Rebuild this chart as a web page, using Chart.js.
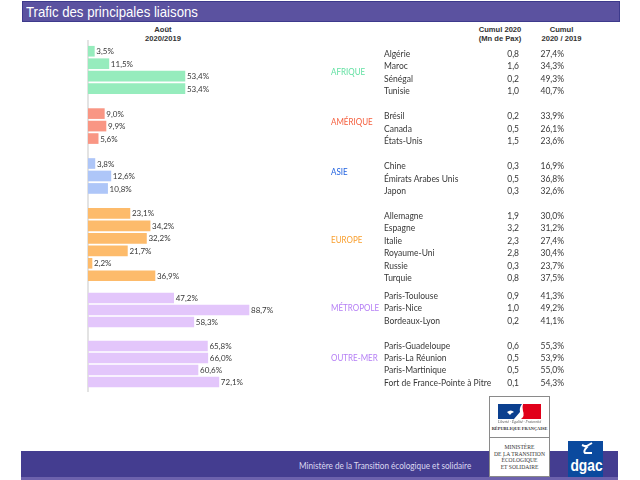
<!DOCTYPE html>
<html lang="fr">
<head>
<meta charset="utf-8">
<title>Trafic des principales liaisons</title>
<script src="https://cdn.jsdelivr.net/npm/chart.js@4"></script>
<style>
  html, body { margin: 0; padding: 0; background: #fff; }
  body { position: relative; width: 640px; height: 480px; overflow: hidden; font-family: Lato, sans-serif; color: #383838; }
  .abs { position: absolute; white-space: nowrap; }
  #titlebar { left: 22px; top: 1px; width: 598px; height: 21px; background: #5b52a0; border: 1px solid #3d3a8c; box-sizing: border-box; }
  #title { left: 26px; top: 1px; font: 15px/21px "Liberation Sans", sans-serif; color: #fff; transform: scaleX(0.88); transform-origin: left; }
  #footer { left: 21px; top: 451px; width: 597px; height: 26px; background: #443d90; }
  #footer2 { left: 21px; top: 477px; width: 597px; height: 3px; background: #6d62ad; }
  #footertext { left: 299px; top: 459px; font: 9.5px/14px Lato, sans-serif; color: #dcd8f0; transform: scaleX(0.86); transform-origin: left; }
  .head { top: 26px; font: bold 7.6px/8.7px "Liberation Sans", sans-serif; color: #333; text-align: center; transform: translateX(-50%); }
  .row { font-size: 8.5px; line-height: 12px; }
  .group { font-size: 9px; line-height: 12px; transform: scaleX(0.89); transform-origin: left; }
  canvas { position: absolute; left: 88px; }
  #axis { left: 87px; top: 40px; width: 1.5px; height: 352px; background: #e3e3e3; }
  #logo { left: 489px; top: 396px; width: 61px; height: 81px; background: #fff; border: 1px solid #8a8a8a; box-sizing: border-box; }
  #divider { left: 489px; top: 437px; width: 61px; height: 1px; background: #8a8a8a; }
  #ministere { left: 489px; top: 444px; width: 61px; text-align: center; font: 5.6px/6.6px "Liberation Serif", serif; color: #333; }
  #devise { left: 489px; top: 420px; width: 61px; text-align: center; font: italic 3.8px/5px "Liberation Serif", serif; color: #555; }
  #rf { left: 489px; top: 425.5px; width: 61px; text-align: center; font: bold 4.4px/5px "Liberation Serif", serif; color: #333; }
  #dgac { left: 568px; top: 441px; width: 35px; height: 36px; background: #0b4a9e; }
  #dgactext { left: 568px; top: 456px; width: 35px; text-align: center; font: bold 16px/20px "Liberation Sans", sans-serif; color: #fff; transform: scaleX(0.86); }
</style>
</head>
<body>
<div class="abs" id="titlebar"></div>
<div class="abs" id="title">Trafic des principales liaisons</div>
<div class="abs" id="axis"></div>
<canvas id="upper" width="552" height="237" style="top:45px;width:552px;height:237px"></canvas>
<canvas id="lower" width="552" height="96" style="top:292px;width:552px;height:96px"></canvas>
<div class="abs head" style="left:163px">Août<br>2020/2019</div>
<div class="abs head" style="left:500px">Cumul 2020<br>(Mn de Pax)</div>
<div class="abs head" style="left:561.5px">Cumul<br>2020 / 2019</div>
<div id="table"></div>
<div class="abs" id="footer"></div>
<div class="abs" id="footer2"></div>
<div class="abs" id="footertext">Ministère de la Transition écologique et solidaire</div>
<div class="abs" id="logo"></div>
<svg class="abs" style="left:498px;top:404px" width="44" height="16" viewBox="0 0 44 16">
  <path d="M0 0 H24 Q21 4 22 8 L16 15 H0Z" fill="#0b3f8f"/>
  <path d="M25 0 H43 V15 H23 Q27 12 25 7 Q24 3 25 0Z" fill="#e1001a"/>
  <path d="M9 8 Q13 5 16 8 Q13 9 12 11 Q10 9 9 8Z" fill="#fff"/>
</svg>
<div class="abs" id="devise">Liberté · Égalité · Fraternité</div>
<div class="abs" id="rf">RÉPUBLIQUE FRANÇAISE</div>
<div class="abs" id="divider"></div>
<div class="abs" id="ministere">MINISTÈRE<br>DE LA TRANSITION<br>ÉCOLOGIQUE<br>ET SOLIDAIRE</div>
<div class="abs" id="dgac"></div>
<svg class="abs" style="left:580px;top:442px" width="14" height="14" viewBox="0 0 14 14">
  <path d="M12 1 L5 5 M2 3 L7 5 Q3 9 5 11 L12 11" fill="none" stroke="#fff" stroke-width="2"/>
</svg>
<div class="abs" id="dgactext">dgac</div>

<script>
// '' = empty row between two groups
const liaisons = [
  'Algérie', 'Maroc', 'Sénégal', 'Tunisie', '',
  'Brésil', 'Canada', 'États-Unis', '',
  'Chine', 'Émirats Arabes Unis', 'Japon', '',
  'Allemagne', 'Espagne', 'Italie', 'Royaume-Uni', 'Russie', 'Turquie',
  'Paris-Toulouse', 'Paris-Nice', 'Bordeaux-Lyon', '',
  'Paris-Guadeloupe', 'Paris-La Réunion', 'Paris-Martinique', 'Fort de France-Pointe à Pitre',
];
const aout = [
  3.5, 11.5, 53.4, 53.4, null,
  9.0, 9.9, 5.6, null,
  3.8, 12.6, 10.8, null,
  23.1, 34.2, 32.2, 21.7, 2.2, 36.9,
  47.2, 88.7, 58.3, null,
  65.8, 66.0, 60.6, 72.1,
];
const cumulPax = [
  '0,8', '1,6', '0,2', '1,0', '',
  '0,2', '0,5', '1,5', '',
  '0,3', '0,5', '0,3', '',
  '1,9', '3,2', '2,3', '2,8', '0,3', '0,8',
  '0,9', '1,0', '0,2', '',
  '0,6', '0,5', '0,5', '0,1',
];
const cumulRatio = [
  '27,4%', '34,3%', '49,3%', '40,7%', '',
  '33,9%', '26,1%', '23,6%', '',
  '16,9%', '36,8%', '32,6%', '',
  '30,0%', '31,2%', '27,4%', '30,4%', '23,7%', '37,5%',
  '41,3%', '49,2%', '41,1%', '',
  '55,3%', '53,9%', '55,0%', '54,3%',
];
const rowGroup = [
  0, 0, 0, 0, 0,
  1, 1, 1, 1,
  2, 2, 2, 2,
  3, 3, 3, 3, 3, 3,
  4, 4, 4, 4,
  5, 5, 5, 5,
];
const groups = ['AFRIQUE', 'AMÉRIQUE', 'ASIE', 'EUROPE', 'MÉTROPOLE', 'OUTRE-MER'];
const barColors = ['#96ecbd', '#f99684', '#aec6f8', '#fdbb6b', '#e3c6fb', '#e3c6fb'];
const groupColors = ['#62e0a2', '#f5603f', '#2263e0', '#f9a030', '#b57ff5', '#b57ff5'];

const SPLIT = 19; // the lower block is drawn a little tighter than the upper one
const PX_PER_UNIT = 1.815;
const GROUP_Y = [72, 122, 172, 240, 308, 358];

const labelPlugin = {
  id: 'barLabels',
  afterDatasetsDraw(chart) {
    const { ctx } = chart;
    const ds = chart.data.datasets[0];
    ctx.save();
    ctx.font = '8px Lato, sans-serif';
    ctx.fillStyle = '#383838';
    ctx.textBaseline = 'middle';
    chart.getDatasetMeta(0).data.forEach((bar, i) => {
      if (ds.data[i] == null) return;
      ctx.fillText(ds.data[i].toFixed(1).replace('.', ',') + '%', bar.x + 2, bar.y + 0.5);
    });
    ctx.restore();
  },
};

function drawBars(id, from, to) {
  const canvas = document.getElementById(id);
  new Chart(canvas, {
    type: 'bar',
    data: {
      labels: liaisons.slice(from, to),
      datasets: [{
        data: aout.slice(from, to),
        backgroundColor: rowGroup.slice(from, to).map((g) => barColors[g]),
        barThickness: 10,
      }],
    },
    options: {
      indexAxis: 'y',
      responsive: false,
      animation: false,
      layout: { padding: 0 },
      plugins: { legend: { display: false }, tooltip: { enabled: false } },
      scales: {
        x: { display: false, min: 0, max: canvas.width / PX_PER_UNIT },
        y: { display: false },
      },
    },
    plugins: [labelPlugin],
  });
}

drawBars('upper', 0, SPLIT);
drawBars('lower', SPLIT, liaisons.length);

const table = document.getElementById('table');

function addText(text, x, y, cls, color, right) {
  const el = document.createElement('div');
  el.className = 'abs ' + cls;
  el.textContent = text;
  el.style.top = y + 'px';
  if (right) el.style.right = (640 - x) + 'px';
  else el.style.left = x + 'px';
  if (color) el.style.color = color;
  table.appendChild(el);
}

liaisons.forEach((name, i) => {
  if (!name) return;
  const y = i < SPLIT ? 48 + i * 12.45 : 290 + (i - SPLIT) * 12.4;
  addText(name, 384, y, 'row');
  addText(cumulPax[i], 519, y, 'row', null, true);
  addText(cumulRatio[i], 564, y, 'row', null, true);
});

groups.forEach((g, i) => addText(g, 331, GROUP_Y[i] - 6, 'group', groupColors[i]));
</script>
</body>
</html>
